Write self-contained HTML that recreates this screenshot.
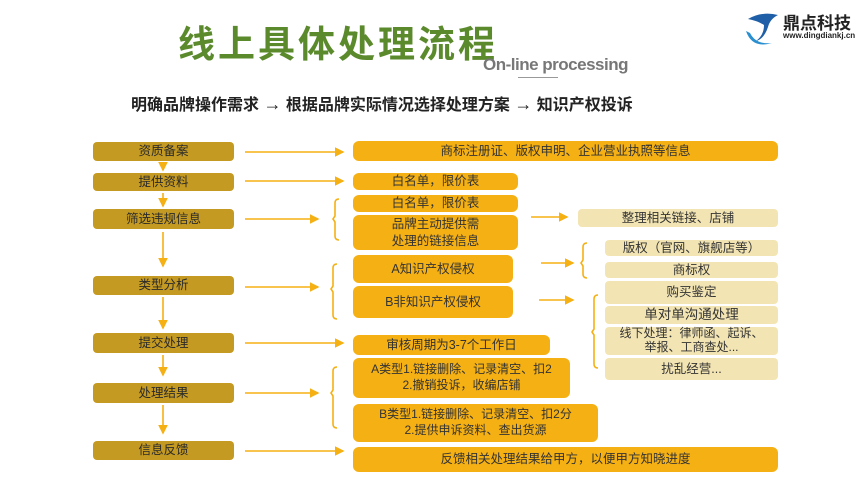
<!DOCTYPE html>
<html><head><meta charset="utf-8"><style>
*{margin:0;padding:0;box-sizing:border-box}
body{width:860px;height:484px;background:#fff;position:relative;overflow:hidden;font-family:"Liberation Sans","Noto Sans CJK SC",sans-serif}
.b{position:absolute;display:flex;align-items:center;justify-content:center;text-align:center;border-radius:4px;font-size:12.5px;color:#333;line-height:1.3}
.l{background:#C49A22;color:#2a2a2a;left:93px;width:141px}
.m{background:#F5B014;left:353px;border-radius:6px}
.p{background:#F3E5B3;left:605px;width:173px}
.t{position:absolute;white-space:nowrap}
</style></head><body>
<div class="t" style="left:178px;top:14px;font-size:37px;font-weight:bold;color:#5B8A2C;letter-spacing:3px">线上具体处理流程</div>
<div class="t" style="left:483px;top:55px;font-size:17px;font-weight:bold;color:#777;letter-spacing:-0.5px">On-line processing</div>
<div style="position:absolute;left:518px;top:77px;width:40px;height:1px;background:#999"></div>
<div class="t" style="left:131px;top:91px;font-size:16px;font-weight:bold;color:#222">明确品牌操作需求 <span style="font-size:18px">→</span> 根据品牌实际情况选择处理方案 <span style="font-size:18px">→</span> 知识产权投诉</div>
<svg style="position:absolute;left:742px;top:5px" width="40" height="44"><path d="M6 14 Q20 6 36 10 Q28 14 26 22 Q22 34 14 36 Q22 30 22 20 Q16 16 6 14Z" fill="#1F5FA8"/><path d="M4 26 Q10 44 30 38 Q14 40 8 28Z" fill="#2A8FD0"/></svg>
<div class="t" style="left:783px;top:9px;font-size:17px;font-weight:bold;color:#222">鼎点科技</div>
<div class="t" style="left:783px;top:31px;font-size:8px;font-weight:bold;color:#222">www.dingdiankj.cn</div>

<div class="b l" style="top:142px;height:19px">资质备案</div>
<div class="b l" style="top:173px;height:18px">提供资料</div>
<div class="b l" style="top:209px;height:20px">筛选违规信息</div>
<div class="b l" style="top:276px;height:19px">类型分析</div>
<div class="b l" style="top:333px;height:20px">提交处理</div>
<div class="b l" style="top:383px;height:20px">处理结果</div>
<div class="b l" style="top:441px;height:19px">信息反馈</div>

<div class="b m" style="top:141px;width:425px;height:20px">商标注册证、版权申明、企业营业执照等信息</div>
<div class="b m" style="top:173px;width:165px;height:17px">白名单，限价表</div>
<div class="b m" style="top:195px;width:165px;height:17px">白名单，限价表</div>
<div class="b m" style="top:215px;width:165px;height:35px">品牌主动提供需<br>处理的链接信息</div>
<div class="b m" style="top:255px;width:160px;height:28px">A知识产权侵权</div>
<div class="b m" style="top:286px;width:160px;height:32px">B非知识产权侵权</div>
<div class="b m" style="top:335px;width:197px;height:20px">审核周期为3-7个工作日</div>
<div class="b m" style="top:358px;width:217px;height:40px;font-size:12px">A类型1.链接删除、记录清空、扣2<br>2.撤销投诉，收编店铺</div>
<div class="b m" style="top:404px;width:245px;height:38px;font-size:12px">B类型1.链接删除、记录清空、扣2分<br>2.提供申诉资料、查出货源</div>
<div class="b m" style="top:447px;width:425px;height:25px">反馈相关处理结果给甲方，以便甲方知晓进度</div>

<div class="b p" style="left:578px;width:200px;top:209px;height:18px">整理相关链接、店铺</div>
<div class="b p" style="top:240px;height:16px">版权（官网、旗舰店等）</div>
<div class="b p" style="top:262px;height:16px">商标权</div>
<div class="b p" style="top:281px;height:23px">购买鉴定</div>
<div class="b p" style="top:306px;height:18px;font-size:13.5px">单对单沟通处理</div>
<div class="b p" style="top:327px;height:28px;font-size:12px;line-height:1.15">线下处理：律师函、起诉、<br>举报、工商查处...</div>
<div class="b p" style="top:358px;height:22px">扰乱经营...</div>

<svg style="position:absolute;left:0;top:0" width="860" height="484">
<defs><marker id="a" markerWidth="6" markerHeight="6" refX="5" refY="3" orient="auto"><path d="M0 0L6 3L0 6Z" fill="#F5B014"/></marker></defs>
<g stroke="#F5B014" stroke-width="1.6" fill="none" marker-end="url(#a)">
<line x1="163" y1="163" x2="163" y2="170"/>
<line x1="163" y1="193" x2="163" y2="206"/>
<line x1="163" y1="232" x2="163" y2="266"/>
<line x1="163" y1="297" x2="163" y2="328"/>
<line x1="163" y1="355" x2="163" y2="375"/>
<line x1="163" y1="405" x2="163" y2="433"/>
<line x1="245" y1="152" x2="343" y2="152"/>
<line x1="245" y1="181" x2="343" y2="181"/>
<line x1="245" y1="219" x2="318" y2="219"/>
<line x1="245" y1="287" x2="318" y2="287"/>
<line x1="245" y1="343" x2="343" y2="343"/>
<line x1="245" y1="393" x2="318" y2="393"/>
<line x1="245" y1="451" x2="343" y2="451"/>
<line x1="531" y1="217" x2="567" y2="217"/>
<line x1="541" y1="263" x2="573" y2="263"/>
<line x1="539" y1="300" x2="573" y2="300"/>
</g>
<g stroke="#F5B014" stroke-width="1.6" fill="none">
<path d="M339 199 Q335 199 335 203 V216 L333 219 L335 222 V236 Q335 240 339 240"/>
<path d="M337 264 Q333 264 333 268 V286 L331 289 L333 292 V315 Q333 319 337 319"/>
<path d="M337 367 Q333 367 333 371 V390 L331 393 L333 396 V424 Q333 428 337 428"/>
<path d="M587 243 Q583 243 583 247 V260 L581 263 L583 266 V274 Q583 278 587 278"/>
<path d="M598 295 Q594 295 594 299 V329 L592 332 L594 335 V364 Q594 368 598 368"/>
</g>
</svg>
</body></html>
